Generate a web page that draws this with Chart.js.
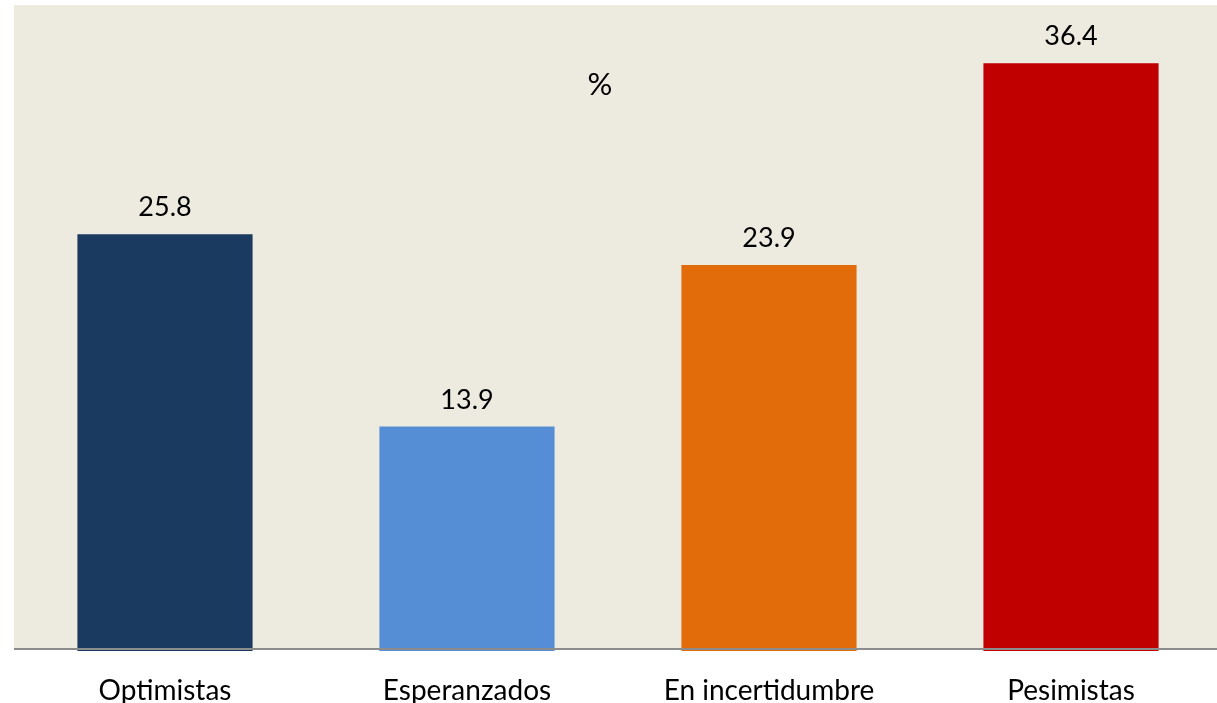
<!DOCTYPE html>
<html>
<head>
<meta charset="utf-8">
<script src="https://cdn.jsdelivr.net/npm/chart.js@4.4.1/dist/chart.umd.min.js"></script>
<style>
html,body{margin:0;padding:0;background:#fff;overflow:hidden;}
#wrap{width:1217px;height:703px;position:relative;overflow:hidden;}
</style>
</head>
<body>
<div id="wrap"><canvas id="c" width="1222" height="703"></canvas></div>
<script>
const categories = ['Optimistas', 'Esperanzados', 'En incertidumbre', 'Pesimistas'];
const values = [25.8, 13.9, 23.9, 36.4];
const barColors = ['#1B3A5F', '#558ED5', '#E36C0A', '#C00000'];
const unitLabel = '%';

const FONT = 'Lato, "Open Sans", sans-serif';

const bgPlugin = {
  id: 'bgPlugin',
  beforeDraw(chart) {
    const {ctx, chartArea} = chart;
    ctx.save();
    ctx.fillStyle = '#EDEAE0';
    ctx.fillRect(chartArea.left, chartArea.top, chart.width - chartArea.left, chartArea.bottom - chartArea.top - 1);
    ctx.restore();
  },
  afterDatasetsDraw(chart) {
    const {ctx, chartArea} = chart;
    ctx.save();
    // axis line
    ctx.strokeStyle = '#8C8C8C';
    ctx.lineWidth = 2;
    ctx.beginPath();
    ctx.moveTo(chartArea.left, chartArea.bottom - 2);
    ctx.lineTo(chart.width, chartArea.bottom - 2);
    ctx.stroke();
    // value labels
    const meta = chart.getDatasetMeta(0);
    ctx.fillStyle = '#000';
    ctx.font = '27px ' + FONT;
    ctx.textAlign = 'center';
    ctx.textBaseline = 'alphabetic';
    meta.data.forEach((bar, i) => {
      ctx.fillText(values[i].toFixed(1), bar.x, bar.y - 18);
    });
    // unit label
    ctx.font = '31px ' + FONT;
    ctx.textBaseline = 'middle';
    ctx.fillText(unitLabel, chartArea.left + 586, chartArea.top + 80);
    ctx.restore();
  }
};

new Chart(document.getElementById('c'), {
  type: 'bar',
  data: {
    labels: categories,
    datasets: [{
      data: values,
      backgroundColor: barColors,
      borderWidth: 0,
      barPercentage: 0.58,
      categoryPercentage: 1.0
    }]
  },
  options: {
    responsive: false,
    animation: false,
    layout: { padding: { left: 14, right: 0, top: 5, bottom: 0 } },
    plugins: {
      legend: { display: false },
      tooltip: { enabled: false },
      title: { display: false }
    },
    scales: {
      x: {
        grid: { display: false, drawTicks: false },
        border: { display: false },
        afterFit(scale) { scale.height = 52; },
        ticks: {
          color: '#000',
          font: { family: FONT, size: 28, lineHeight: 1 },
          padding: 26,
          maxRotation: 0,
          autoSkip: false
        }
      },
      y: {
        display: false,
        min: 0,
        max: 40
      }
    }
  },
  plugins: [bgPlugin]
});
</script>
</body>
</html>
